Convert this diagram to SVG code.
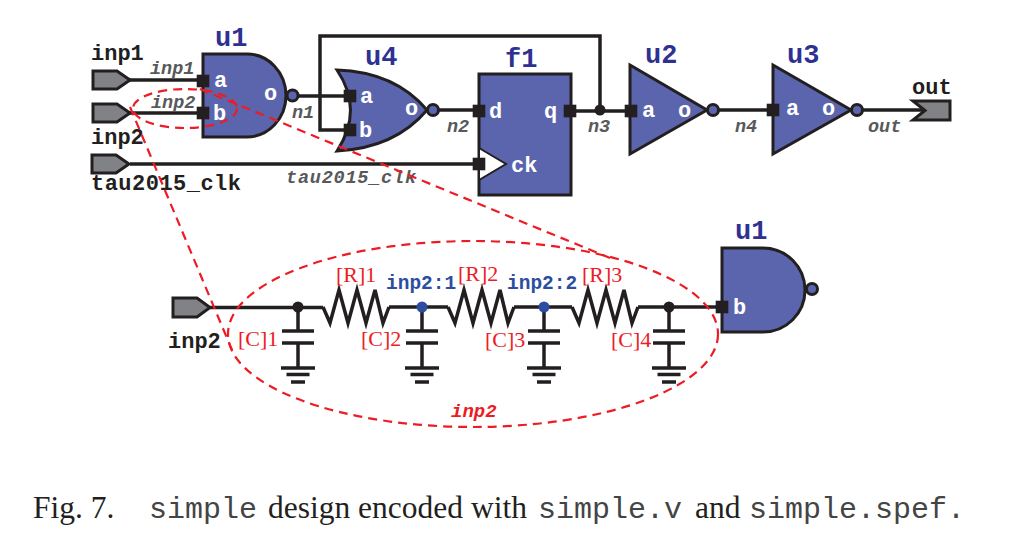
<svg xmlns="http://www.w3.org/2000/svg" width="1025" height="548" viewBox="0 0 1025 548">
<style>
.g{fill:#5b65ad;stroke:#231f20;stroke-width:3;stroke-linejoin:miter}
.port{fill:#808285;stroke:#231f20;stroke-width:3}
.w{fill:none;stroke:#231f20;stroke-width:3.500;stroke-linejoin:miter}
.pin{fill:#231f20}
.dash{fill:none;stroke:#ed1c24;stroke-width:2.200;stroke-dasharray:9 6}
text{font-family:"Liberation Mono","DejaVu Sans Mono",monospace}
.name{font-size:27px;font-weight:bold;fill:#2e3192}
.pl{font-size:22px;font-weight:bold;fill:#fff}
.lab{font-size:22px;font-weight:bold;fill:#231f20}
.net{font-size:18.500px;font-weight:bold;font-style:italic;fill:#58595b}
.red{font-family:"Liberation Serif","Times New Roman",serif;font-size:22px;fill:#ed1c24}
.blue{font-size:19.500px;font-weight:bold;fill:#2b4ea0}
.cap{font-family:"Liberation Serif","Times New Roman",serif;font-size:31.500px;fill:#231f20}
.capm{font-family:"Liberation Mono",monospace;font-size:30px;fill:#444}
</style>
<defs>
<rect id="p" class="pin" x="-6.300" y="-6.300" width="12.600" height="12.600"/>
<g id="cap">
<path class="w" d="M0 0V24M-16 24H16M-16 36H16M0 36V61M-17 61H17M-11.500 67.500H11.500M-7 75H7"/>
</g>
<path id="res" class="w" d="M0 0L7 16L16-17L25 16L34-17L43 16L52-17L60 16L66 0"/>
</defs>
<g id="connectors">
<path class="w" d="M130 80H203M130 113H203M130 164H479"/>
<path class="w" d="M298 96H350M350 130H320V36H600V110M432 110H479M570 111H631M718 110H773M862 110H925"/>
<path class="w" d="M210 307.500H323M389 307H448M514 307H572M638 307H722"/>
<use href="#res" x="323" y="307"/>
<use href="#res" x="448" y="307"/>
<use href="#res" x="572" y="307"/>
<use href="#cap" x="298" y="307"/>
<use href="#cap" x="422" y="307"/>
<use href="#cap" x="544" y="307"/>
<use href="#cap" x="669" y="307"/>
<circle cx="600" cy="110" r="5.500" fill="#231f20"/>
<circle cx="298" cy="307" r="5.500" fill="#231f20"/>
<circle cx="669" cy="307" r="5.500" fill="#231f20"/>
<circle cx="422" cy="307" r="5.500" fill="#2b4ea0"/>
<circle cx="544" cy="307" r="5.500" fill="#2b4ea0"/>
</g>
<g id="inp1">
<path class="port" d="M93 71H117L130 80L117 89H93Z"/>
<text class="lab" x="91" y="60">inp1</text>
<text class="net" x="150" y="74">inp1</text>
</g>
<g id="inp2">
<path class="port" d="M93 104H117L130 113L117 122H93Z"/>
<text class="lab" x="91" y="144">inp2</text>
<text class="net" x="151" y="108">inp2</text>
</g>
<g id="tau2015_clk">
<path class="port" d="M92 155H116L129 164L116 173H92Z"/>
<text class="lab" x="91" y="190" textLength="150">tau2015_clk</text>
<text class="net" x="286" y="183" textLength="130">tau2015_clk</text>
</g>
<g id="u1">
<path class="g" d="M203 54H247A39 41.500 0 0 1 247 137H203Z"/>
<circle class="g" cx="292.500" cy="95.500" r="5.500"/>
<use href="#p" x="203" y="81"/>
<use href="#p" x="203" y="113"/>
<text class="name" x="215" y="46">u1</text>
<text class="pl" x="214" y="87">a</text>
<text class="pl" x="213" y="120">b</text>
<text class="pl" x="264" y="100">o</text>
<text class="net" x="292" y="118">n1</text>
</g>
<g id="u4">
<path class="g" d="M337 70Q395 72 427 110Q395 148 337 151Q364 110 337 70Z"/>
<circle class="g" cx="433" cy="110" r="5.500"/>
<use href="#p" x="350" y="96"/>
<use href="#p" x="350" y="130"/>
<text class="name" x="365" y="65">u4</text>
<text class="pl" x="360" y="103">a</text>
<text class="pl" x="359" y="137">b</text>
<text class="pl" x="405" y="115">o</text>
<text class="net" x="447" y="132">n2</text>
</g>
<g id="f1">
<rect class="g" x="479" y="74" width="92" height="121"/>
<path d="M479 148L506 164L479 180Z" fill="#fff" stroke="#231f20" stroke-width="2"/>
<use href="#p" x="479" y="111"/>
<use href="#p" x="570" y="111"/>
<use href="#p" x="479" y="164"/>
<text class="name" x="505" y="67">f1</text>
<text class="pl" x="489" y="118">d</text>
<text class="pl" x="544" y="118">q</text>
<text class="pl" x="511" y="172">ck</text>
<text class="net" x="588" y="132">n3</text>
</g>
<g id="u2">
<path class="g" d="M630 65L707 110L630 154Z"/>
<circle class="g" cx="713" cy="110" r="5.500"/>
<use href="#p" x="631" y="111"/>
<text class="name" x="645" y="63">u2</text>
<text class="pl" x="642" y="117">a</text>
<text class="pl" x="678" y="117">o</text>
<text class="net" x="735" y="132">n4</text>
</g>
<g id="u3">
<path class="g" d="M773 65L851 110L773 154Z"/>
<circle class="g" cx="857" cy="110" r="5.500"/>
<use href="#p" x="773" y="110"/>
<text class="name" x="787" y="63">u3</text>
<text class="pl" x="786" y="115">a</text>
<text class="pl" x="822" y="115">o</text>
<text class="net" x="868" y="132">out</text>
</g>
<g id="out">
<path class="port" d="M913 101H950V120H913L925 110.500Z"/>
<text class="lab" x="912" y="94">out</text>
</g>
<g id="inp2-detail">
<path class="port" d="M173 298H197L210 307.500L197 317H173Z"/>
<text class="lab" x="168" y="348">inp2</text>
<text class="red" x="336" y="282">[R]1</text>
<text class="red" x="458" y="281">[R]2</text>
<text class="red" x="582" y="282">[R]3</text>
<text class="red" x="238" y="346">[C]1</text>
<text class="red" x="361" y="346">[C]2</text>
<text class="red" x="485" y="347">[C]3</text>
<text class="red" x="611" y="347">[C]4</text>
<text class="blue" x="386" y="289">inp2:1</text>
<text class="blue" x="507" y="289">inp2:2</text>
</g>
<g id="u1-detail">
<path class="g" d="M722 248H763A42 42 0 0 1 763 332H722Z"/>
<circle class="g" cx="812" cy="289" r="5.500"/>
<use href="#p" x="722" y="307"/>
<text class="name" x="735" y="239">u1</text>
<text class="pl" x="733" y="314">b</text>
</g>
<g id="zoom-callout">
<ellipse class="dash" cx="185" cy="108.500" rx="52" ry="19.500"/>
<ellipse class="dash" cx="473" cy="334" rx="245" ry="93"/>
<path class="dash" d="M130 107L232 350M200 89L610 258"/>
<text x="451" y="417" font-size="19" font-weight="bold" font-style="italic" fill="#ed1c24">inp2</text>
</g>
<g id="caption">
<text class="cap" x="33" y="518">Fig. 7.</text>
<text class="capm" x="149" y="518">simple</text>
<text class="cap" x="268" y="518">design encoded with</text>
<text class="capm" x="538" y="518">simple.v</text>
<text class="cap" x="695" y="518">and</text>
<text class="capm" x="749" y="518">simple.spef.</text>
</g>
</svg>
